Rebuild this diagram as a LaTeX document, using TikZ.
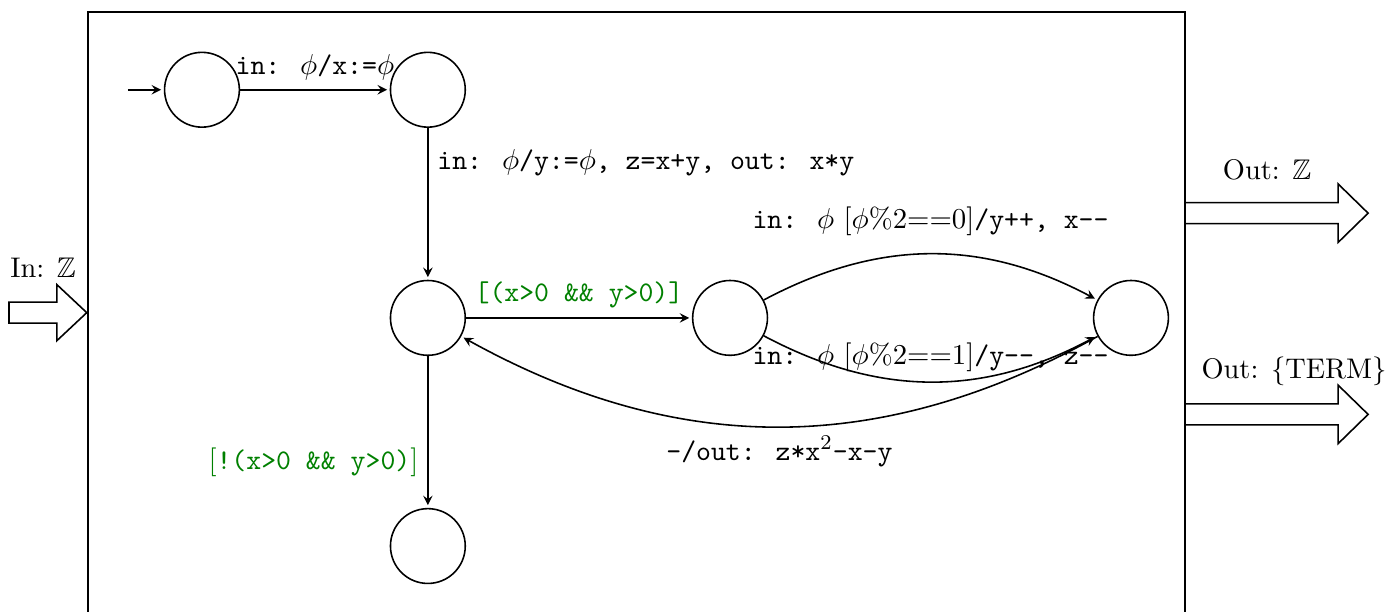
\documentclass[tikz,border=0pt]{standalone}
\usepackage{amssymb}
\usetikzlibrary{arrows}
\begin{document}
\begin{tikzpicture}
  [->, >=stealth, shorten >=1pt, node distance=3.05cm,
    semithick, align=center,
    font=\fontsize{10.8}{13}\selectfont,
    state/.style={%
      circle, draw, minimum size=1cm, inner sep=0pt
    },
    guard/.style={%
      text=green!50!black
    },
    port/.style={%
      -, shorten >=0pt, draw
    },
  ]

  \useasboundingbox (0,0) rectangle (18.596,-8.18);

  % the component
  \draw[-, shorten >=0pt] (1.18,-0.16) rectangle (15.84,-8.6);

  \node[state] (q0) at (2.70,-1.20) {};
  \node[state] (q1) [right of=q0, node distance=3.02cm] {};
  \node[state] (q2) [below of=q1] {};
  \node[state] (q3) [right of=q2, node distance=4.04cm] {};
  \node[state] (q4) [right of=q3, node distance=5.36cm] {};
  \node[state] (q5) [below of=q2] {};
  \node[coordinate] (init) [left of=q0, node distance=0.99cm] {};

  \draw (init) -- (q0);
  \draw (q0) -- node[above] {\texttt{in: }$\phi$\texttt{/x:=}$\phi$} (q1);
  \draw (q1) -- node[right, pos=0.23]
    {\texttt{in: }$\phi$\texttt{/y:=}$\phi$\texttt{, z=x+y, out: x*y}} (q2);
  \draw (q2) -- node[above, guard] {\texttt{[(x>0 \&\& y>0)]}} (q3);
  \draw (q2) -- node[left, pos=0.7, guard]
    {$[$\texttt{!(x>0 \&\& y>0)}$]$} (q5);

  \draw (q3) to[bend left=28] node[above=3.5pt]
    {\texttt{in: }$\phi$ $[\phi\%2{==}0]$\texttt{/y++, x--}} (q4);
  \draw (q3) to[bend right=28] node[above]
    {\texttt{in: }$\phi$ $[\phi\%2{==}1]$\texttt{/y--, z--}} (q4);
  \draw (q4) to[bend left=29] node[below]
    {\texttt{-/out: z*x$^2$-x-y}} (q2);

  % ports
  \draw[port] (0.12,-4.04) -- (0.76,-4.04) -- (0.76,-3.805) -- (1.16,-4.18)
    -- (0.76,-4.555) -- (0.76,-4.32) -- (0.12,-4.32) -- cycle;
  \draw[port] (15.84,-2.71) -- (17.89,-2.71) -- (17.89,-2.46) -- (18.29,-2.85)
    -- (17.89,-3.24) -- (17.89,-2.99) -- (15.84,-2.99);
  \draw[port] (15.84,-5.40) -- (17.89,-5.40) -- (17.89,-5.15) -- (18.29,-5.54)
    -- (17.89,-5.93) -- (17.89,-5.68) -- (15.84,-5.68);

  \node (inlbl) at (0.575,-3.58) {In: $\mathbb{Z}$};
  \node (outlbl) at (16.94,-2.27) {Out: $\mathbb{Z}$};
  \node (termlbl) at (17.30,-4.97) {Out: $\{$TERM$\}$};

\end{tikzpicture}
\end{document}
